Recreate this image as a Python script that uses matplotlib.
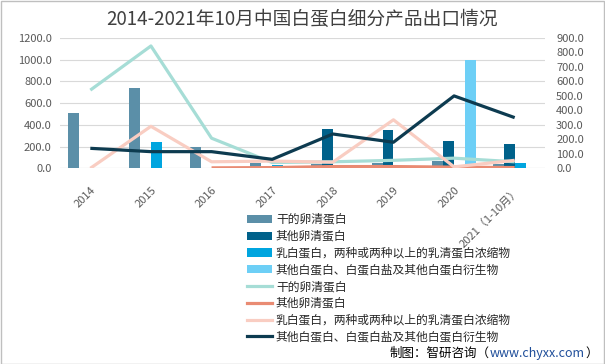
import numpy as np
import matplotlib
matplotlib.use("Agg")
import matplotlib.pyplot as plt
from matplotlib.patches import Rectangle
from matplotlib.lines import Line2D
from matplotlib.patches import Patch

plt.rcParams['font.family'] = ['Noto Sans CJK SC', 'DejaVu Sans']

years = ['2014', '2015', '2016', '2017', '2018', '2019', '2020', '2021（1-10月）']
series_names = ['干的卵清蛋白', '其他卵清蛋白', '乳白蛋白，两种或两种以上的乳清蛋白浓缩物',
                '其他白蛋白、白蛋白盐及其他白蛋白衍生物']

# bar series (left axis)
bar_dry = [510, 740, 195, 50, 40, 50, 70, 40]
bar_other_egg = [5, 0, 5, 0, 363, 354, 252, 224]
bar_whey = [0, 245, 0, 30, 0, 0, 0, 45]
bar_other_alb = [0, 0, 0, 0, 0, 0, 1000, 0]

# line series (right axis)
line_dry = [540, 845, 208, 40, 45, 55, 70, 45]
line_other_egg = [np.nan, np.nan, 3, 5, 12, 12, 8, 5]
line_whey = [0, 290, 45, 50, 42, 335, 10, 55]
line_other_alb = [138, 115, 115, 62, 237, 180, 500, 350]

bar_colors = ['#5B8FA8', '#00618A', '#00A5DF', '#6DCFF6']
line_colors = ['#A6DDD6', '#E98B73', '#F9CDC2', '#0D3B50']

fig = plt.figure(figsize=(6.05, 3.64), dpi=100)
ax = fig.add_axes([60/605, 1-168.3/364, 485/605, 130.3/364])
ax2 = ax.twinx()

x = np.arange(len(years))
w = 0.18
bars = [bar_dry, bar_other_egg, bar_whey, bar_other_alb]
for i, (vals, c) in enumerate(zip(bars, bar_colors)):
    ax.bar(x + (i - 1.5) * w, vals, width=w, color=c, zorder=2)

lines = [line_dry, line_other_egg, line_whey, line_other_alb]
for vals, c in zip(lines, line_colors):
    ax2.plot(x, vals, color=c, lw=2.3, zorder=3, solid_capstyle='butt')

ax.set_xlim(-0.5, len(years) - 0.5)
ax.set_ylim(0, 1200)
ax2.set_ylim(0, 900)
ax.set_yticks(np.arange(0, 1201, 200))
ax2.set_yticks(np.arange(0, 901, 100))
ax.set_yticklabels([f'{v:.1f}' for v in np.arange(0, 1201, 200)])
ax2.set_yticklabels([f'{v:.1f}' for v in np.arange(0, 901, 100)])
ax.grid(axis='y', color='#D9D9D9', lw=0.8, zorder=0)
ax.set_axisbelow(True)

for a in (ax, ax2):
    for s in ['top', 'left', 'right', 'bottom']:
        a.spines[s].set_visible(False)
    a.tick_params(length=0, labelsize=8, labelcolor='#595959')
ax.axhline(0, color='#D9D9D9', lw=0.8, zorder=1)
ax.tick_params(axis='y', pad=6)
ax2.tick_params(axis='y', pad=8)

ax.set_xticks(x)
ax.set_xticklabels(years, rotation=45, ha='right', rotation_mode='anchor')
ax.tick_params(axis='x', pad=12)

fig.text(0.5, 1-19/364, '2014-2021年10月中国白蛋白细分产品出口情况', ha='center', va='center',
         fontsize=13.5, color='#404040')

handles = [Patch(facecolor=c, edgecolor='none') for c in bar_colors] + \
          [Line2D([0], [0], color=c, lw=2.3) for c in line_colors]
labels = series_names + series_names
fig.legend(handles, labels, loc='upper left', bbox_to_anchor=(247/605, 1-213/364),
           frameon=False, fontsize=8.5, handlelength=2.1, handletextpad=0.35,
           labelspacing=0.32, borderpad=0, borderaxespad=0, labelcolor='#262626')

fy = 1-353/364
t1 = fig.text(390/605, fy, '制图：智研咨询（', ha='left', va='center', fontsize=9.0, color='#000000')
fig.canvas.draw()
bb = t1.get_window_extent()
t2 = fig.text(bb.x1/605, fy, 'www.chyxx.com', ha='left', va='center', fontsize=9.0, color='#1F4E9A')
fig.canvas.draw()
bb2 = t2.get_window_extent()
fig.text(bb2.x1/605, fy, '）', ha='left', va='center', fontsize=9.0, color='#000000')

fig.patches.append(Rectangle((0.001, 0.001), 0.997, 0.997, transform=fig.transFigure,
                             fill=False, edgecolor='#BFBFBF', lw=1))

fig.savefig('out.png', dpi=100)
